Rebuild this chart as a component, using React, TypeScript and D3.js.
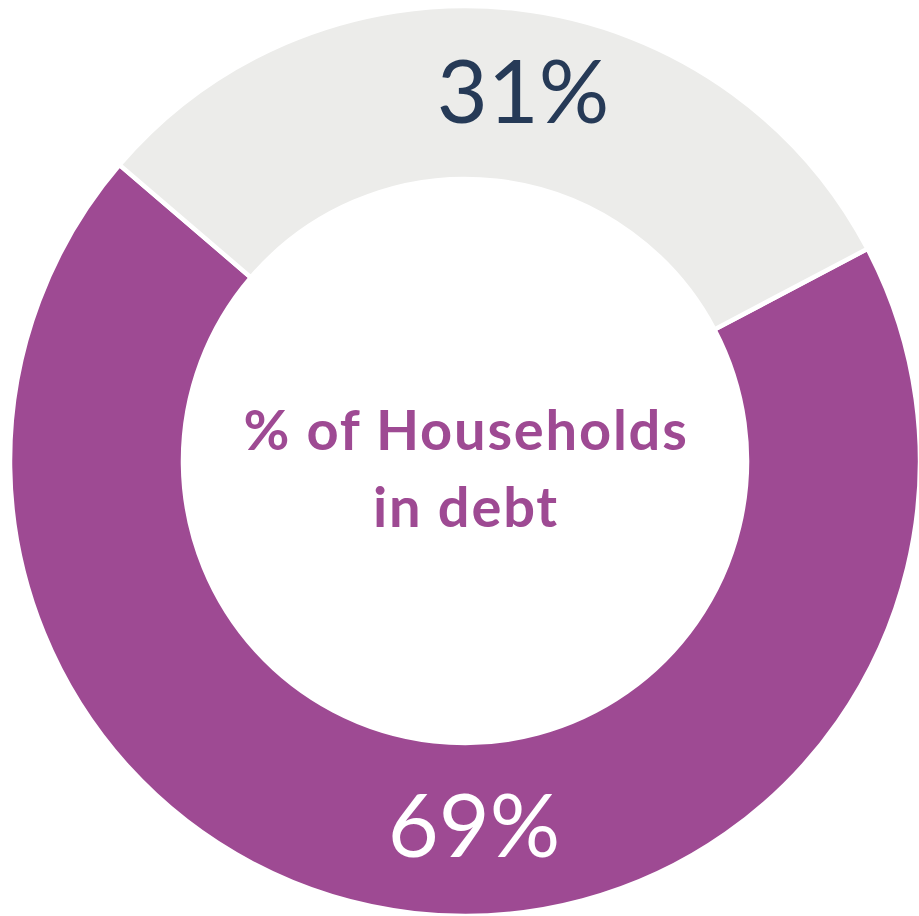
import React, { useEffect, useRef } from 'react';
import * as d3 from 'd3';

const categories = ['In debt', 'Not in debt'];
const values = [69, 31];
const labels = ['69%', '31%'];
const colors = ['#9E4A93', '#ECECEA'];
const labelColors = ['#FFFFFF', '#263A57'];
const centerLines = ['% of Households', 'in debt'];

export default function App() {
  const svgRef = useRef<SVGSVGElement>(null);

  useEffect(() => {
    if (!svgRef.current) return;
    d3.select(svgRef.current).selectAll('*').remove();

    const width = 919;
    const height = 916;
    const cx = 465;
    const cy = 461;
    const outerR = 455;
    const innerR = 282;

    const svg = d3.select(svgRef.current)
      .attr('width', width)
      .attr('height', height)
      .append('g')
      .attr('transform', `translate(${cx},${cy})`);

    // start of the first slice (purple) sits right of 12 o'clock
    const start = (62.2 * Math.PI) / 180;
    const pie = d3.pie<number>().sort(null).startAngle(start).endAngle(start + 2 * Math.PI);
    const arcs = pie(values);

    const arc = d3.arc<d3.PieArcDatum<number>>().innerRadius(innerR).outerRadius(outerR);

    svg.selectAll('path.slice')
      .data(arcs)
      .join('path')
      .attr('class', 'slice')
      .attr('d', arc as any)
      .attr('fill', (_, i) => colors[i])
      .attr('stroke', '#FFFFFF')
      .attr('stroke-width', 4.5)
      .attr('stroke-linejoin', 'miter');

    // labels (Excel-like placement, nudged from centroid)
    const nudge = [[50, 30], [17, 28]];
    svg.selectAll('text.value')
      .data(arcs)
      .join('text')
      .attr('class', 'value')
      .attr('x', (d, i) => arc.centroid(d)[0] + nudge[i][0])
      .attr('y', (d, i) => arc.centroid(d)[1] + nudge[i][1])
      .attr('text-anchor', 'middle')
      .attr('font-family', 'Lato, "Open Sans", sans-serif')
      .attr('font-size', 88)
      .attr('fill', (_, i) => labelColors[i])
      .text((_, i) => labels[i]);

    svg.selectAll('text.center')
      .data(centerLines)
      .join('text')
      .attr('class', 'center')
      .attr('x', 1)
      .attr('y', (_, i) => -11 + i * 77)
      .attr('text-anchor', 'middle')
      .attr('font-family', 'Lato, "Open Sans", sans-serif')
      .attr('font-weight', 'bold')
      .attr('font-size', 56)
      .attr('letter-spacing', 1.8)
      .attr('fill', colors[0])
      .text(d => d);

    svg.attr('aria-label', categories.join(', '));
  }, []);

  return (
    <div style={{ position: 'absolute', left: 0, top: 0, background: '#fff' }}>
      <svg ref={svgRef} style={{ display: 'block' }} />
    </div>
  );
}
